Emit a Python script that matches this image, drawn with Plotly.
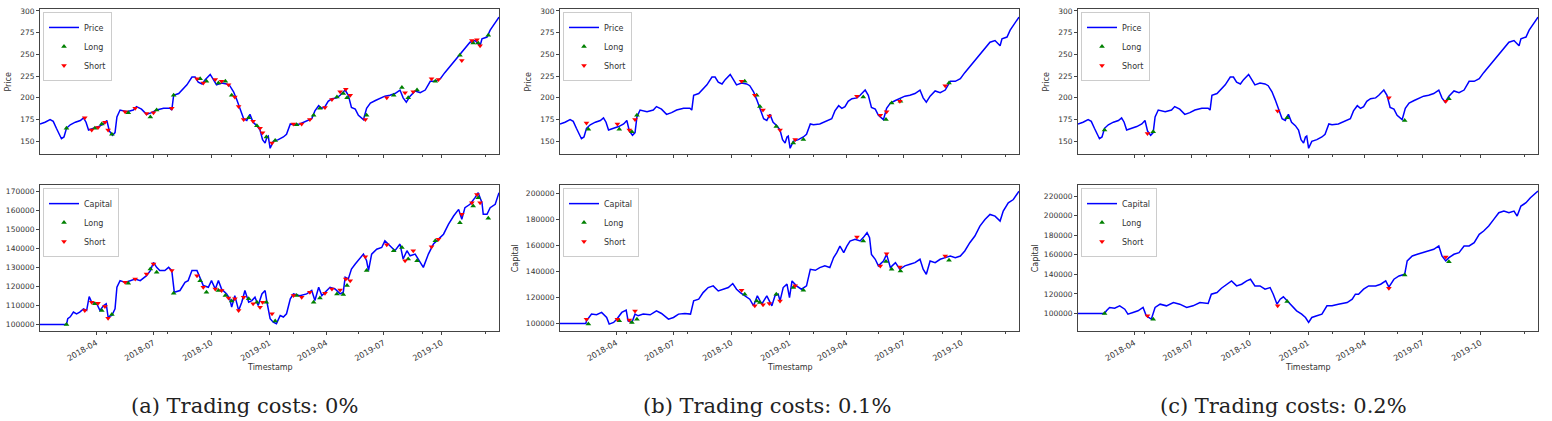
import plotly.graph_objects as go

# ---------------- data ----------------
price_dates = ["2018-01-02","2018-01-10","2018-01-18","2018-01-23","2018-01-28","2018-02-02","2018-02-05","2018-02-09","2018-02-13","2018-02-19",
"2018-02-27","2018-03-07","2018-03-12","2018-03-16","2018-03-20","2018-03-28","2018-04-05","2018-04-13","2018-04-18","2018-04-22",
"2018-04-27","2018-05-01","2018-05-04","2018-05-09","2018-05-20","2018-05-30","2018-06-04","2018-06-12","2018-06-20","2018-06-28",
"2018-07-06","2018-07-17","2018-07-27","2018-07-30","2018-08-02","2018-08-10","2018-08-15","2018-08-23","2018-08-31","2018-09-05",
"2018-09-10","2018-09-16","2018-09-21","2018-09-29","2018-10-04","2018-10-09","2018-10-17","2018-10-25","2018-10-30","2018-11-05",
"2018-11-10","2018-11-15","2018-11-21","2018-11-26","2018-12-01","2018-12-06","2018-12-12","2018-12-17","2018-12-21","2018-12-25",
"2018-12-28","2018-12-30","2019-01-02","2019-01-07","2019-01-15","2019-01-23","2019-01-28","2019-02-03","2019-02-08","2019-02-18",
"2019-03-01","2019-03-09","2019-03-14","2019-03-20","2019-03-25","2019-03-30","2019-04-04","2019-04-10","2019-04-18","2019-04-23",
"2019-05-01","2019-05-06","2019-05-11","2019-05-17","2019-05-22","2019-05-30","2019-06-04","2019-06-10","2019-06-18","2019-06-25",
"2019-07-03","2019-07-11","2019-07-19","2019-07-27","2019-08-01","2019-08-06","2019-08-12","2019-08-20","2019-08-28","2019-09-05",
"2019-09-13","2019-09-21","2019-09-29","2019-10-06","2019-10-14","2019-10-22","2019-10-30","2019-11-07","2019-11-15","2019-11-23",
"2019-12-01","2019-12-04","2019-12-12","2019-12-17","2019-12-25","2019-12-31"]
price_values = [170,172,175,173,165,158,153,155,165,169,
172,174,177,172,163,165,167,170,174,162,
157,160,178,186,184,186,190,187,181,183,
186,188,188,186,203,205,209,215,224,224,
218,216,221,227,221,215,217,216,214,207,
198,188,176,174,181,172,168,163,152,148,
155,156,142,150,152,155,158,170,169,170,
173,176,185,191,188,190,196,199,200,203,
209,203,189,187,180,175,188,194,197,199,
202,203,205,209,200,195,202,208,206,209,
219,219,222,229,236,243,251,258,264,266,
260,268,270,278,287,293]

cap_a_dates = ["2018-01-02","2018-02-13","2018-02-15","2018-02-19","2018-02-24","2018-03-01","2018-03-06","2018-03-12","2018-03-17","2018-03-21",
"2018-03-25","2018-04-02","2018-04-07","2018-04-13","2018-04-17","2018-04-20","2018-04-26","2018-05-01","2018-05-04","2018-05-09",
"2018-05-17","2018-05-25","2018-06-02","2018-06-10","2018-06-20","2018-06-26","2018-07-01","2018-07-06","2018-07-11","2018-07-19",
"2018-07-25","2018-07-30","2018-08-03","2018-08-12","2018-08-20","2018-08-25","2018-08-31","2018-09-08","2018-09-13","2018-09-18",
"2018-09-26","2018-10-01","2018-10-07","2018-10-12","2018-10-17","2018-10-25","2018-10-30","2018-11-02","2018-11-07","2018-11-13",
"2018-11-18","2018-11-23","2018-11-29","2018-12-04","2018-12-09","2018-12-14","2018-12-20","2018-12-25","2018-12-28","2019-01-02",
"2019-01-07","2019-01-12","2019-01-18","2019-01-23","2019-01-28","2019-02-03","2019-02-08","2019-02-18","2019-03-01","2019-03-09",
"2019-03-14","2019-03-20","2019-03-25","2019-03-30","2019-04-07","2019-04-15","2019-04-23","2019-04-28","2019-05-01","2019-05-06",
"2019-05-11","2019-05-17","2019-05-25","2019-05-30","2019-06-04","2019-06-07","2019-06-12","2019-06-20","2019-06-28","2019-07-03",
"2019-07-11","2019-07-19","2019-07-27","2019-08-01","2019-08-07","2019-08-12","2019-08-20","2019-08-25","2019-09-02","2019-09-10",
"2019-09-18","2019-09-26","2019-10-04","2019-10-12","2019-10-20","2019-10-28","2019-11-02","2019-11-07","2019-11-15","2019-11-23",
"2019-11-28","2019-12-04","2019-12-06","2019-12-12","2019-12-17","2019-12-25","2019-12-31"]
cap_a_values = [100000,100000,103000,104000,106500,105600,106500,108200,107400,114700,
111700,110900,107400,110000,110900,103900,104700,108200,119600,123100,
122200,123100,124000,123100,125700,128400,132700,130100,128400,128400,
130100,128400,117000,117900,122200,123100,128400,128400,124900,120500,
119600,123100,118700,123100,118700,116100,113500,109100,115200,107400,
111700,117900,111700,112600,114400,110000,116100,117900,111700,103000,
101200,100400,104700,103900,105600,113500,116100,115200,116100,117900,
112600,119600,115200,117000,119600,118700,116100,117000,124900,124000,
129200,131900,135400,137100,133600,128400,137100,139700,140600,144100,
141500,138900,142400,134500,138900,136200,137100,134500,130100,137100,
142400,145000,147600,152900,157200,160700,155500,161600,163400,166900,
169500,164200,158100,158100,161600,163400,169500]

cap_b_dates = ["2018-01-02","2018-02-12","2018-02-13","2018-02-21","2018-03-01","2018-03-09","2018-03-17","2018-03-21","2018-03-28","2018-04-02",
"2018-04-10","2018-04-17","2018-04-20","2018-04-26","2018-05-01","2018-05-06","2018-05-14","2018-05-25","2018-06-04","2018-06-12",
"2018-06-23","2018-07-01","2018-07-09","2018-07-19","2018-07-28","2018-08-02","2018-08-10","2018-08-17","2018-08-25","2018-09-02",
"2018-09-10","2018-09-18","2018-09-26","2018-10-03","2018-10-09","2018-10-15","2018-10-23","2018-10-30","2018-11-05","2018-11-11",
"2018-11-18","2018-11-26","2018-12-04","2018-12-09","2018-12-14","2018-12-17","2018-12-22","2018-12-28","2019-01-01","2019-01-05",
"2019-01-12","2019-01-20","2019-01-28","2019-02-03","2019-02-11","2019-02-18","2019-02-26","2019-03-06","2019-03-12","2019-03-17",
"2019-03-22","2019-03-28","2019-04-02","2019-04-07","2019-04-15","2019-04-23","2019-04-28","2019-05-04","2019-05-08","2019-05-11",
"2019-05-17","2019-05-22","2019-05-30","2019-06-04","2019-06-10","2019-06-18","2019-06-25","2019-07-03","2019-07-11","2019-07-19",
"2019-07-27","2019-08-01","2019-08-06","2019-08-12","2019-08-20","2019-08-28","2019-09-05","2019-09-13","2019-09-21","2019-09-29",
"2019-10-06","2019-10-14","2019-10-22","2019-10-30","2019-11-07","2019-11-15","2019-11-23","2019-12-01","2019-12-06","2019-12-14",
"2019-12-22","2019-12-31"]
cap_b_values = [100000,100000,102000,107200,106700,108500,104600,99500,100800,103300,
108500,110300,102000,100800,107200,105900,107200,106700,109700,107700,
103300,104600,107200,107700,107200,117400,118700,123800,127700,129000,
125100,126400,127700,130800,126400,123800,121300,118700,113600,121300,
114900,121300,113600,121300,122600,117400,127700,130300,120000,132800,
129000,126400,129000,141800,141000,143100,144400,143100,150800,154600,
159700,154600,159700,163600,164900,163600,166200,170000,166200,153300,
149500,144400,148200,153300,143100,146900,141800,144400,145600,146900,
149500,141800,137900,148200,146900,149500,150800,152000,150800,152000,
155900,162300,167400,175100,180200,184100,182800,179000,186700,193100,
195600,202000]

cap_c_dates = ["2018-01-02","2018-02-13","2018-02-16","2018-02-21","2018-03-01","2018-03-09","2018-03-17","2018-03-22","2018-03-30","2018-04-07",
"2018-04-15","2018-04-20","2018-04-28","2018-05-04","2018-05-12","2018-05-22","2018-06-02","2018-06-12","2018-06-23","2018-07-03",
"2018-07-14","2018-07-27","2018-08-01","2018-08-10","2018-08-17","2018-08-25","2018-09-02","2018-09-10","2018-09-18","2018-09-26",
"2018-10-02","2018-10-09","2018-10-17","2018-10-25","2018-11-02","2018-11-07","2018-11-13","2018-11-18","2018-11-23","2018-11-29",
"2018-12-06","2018-12-14","2018-12-22","2018-12-28","2019-01-02","2019-01-07","2019-01-15","2019-01-23","2019-01-31","2019-02-08",
"2019-02-18","2019-03-04","2019-03-12","2019-03-17","2019-03-22","2019-03-30","2019-04-07","2019-04-18","2019-04-26","2019-05-04",
"2019-05-09","2019-05-17","2019-05-25","2019-06-03","2019-06-07","2019-06-15","2019-06-23","2019-07-03","2019-07-11","2019-07-19",
"2019-07-27","2019-08-01","2019-08-07","2019-08-12","2019-08-20","2019-08-28","2019-09-05","2019-09-13","2019-09-21","2019-09-29",
"2019-10-06","2019-10-14","2019-10-22","2019-10-30","2019-11-07","2019-11-15","2019-11-23","2019-11-28","2019-12-04","2019-12-12",
"2019-12-19","2019-12-27","2019-12-31"]
cap_c_values = [100000,100000,102700,106100,105400,107800,104400,99300,101000,102700,
106100,97600,94200,106100,109500,107800,111200,109500,106100,107800,
111200,110200,119700,121400,125800,129900,133300,128200,129900,133300,
135000,128200,128200,124800,126500,119700,109500,114600,117000,112900,
107800,102700,99300,95900,90800,95900,97600,99300,107800,107800,
109500,111200,114600,119700,119700,124800,128200,128200,129900,133300,
127000,135000,138400,140000,153700,158800,160500,162200,163900,165600,
169000,158800,153700,157100,160500,162200,169000,169000,172400,180900,
184300,189400,196200,203000,204700,203000,204700,199600,209800,213200,
218300,223400,225100]

# trade markers (a: 0 %, b: 0.1 %, c: 0.2 %)
long_a_dates = ["2018-02-13","2018-03-30","2018-04-10","2018-04-26","2018-05-22","2018-06-26","2018-07-06","2018-08-02","2018-09-13","2018-09-23",
"2018-10-12","2018-10-23","2018-11-02","2018-11-29","2018-12-12","2018-12-27","2019-01-10","2019-02-13","2019-03-12","2019-03-22",
"2019-04-18","2019-04-28","2019-05-04","2019-06-04","2019-07-17","2019-07-30","2019-08-09","2019-08-23","2019-09-21","2019-10-30",
"2019-11-20","2019-11-28","2019-12-14"]
long_a_price = [165,165,170,158,183,178,186,203,222,219,217,219,203,177,168,155,151,169,180,188,
201,205,200,180,203,212,200,209,219,249,263,263,272]
long_a_capital = [100000,110900,107400,105300,121700,129200,127500,116500,123100,117000,117900,115200,112300,113500,111700,111700,101800,115200,111700,114000,
116100,115800,120500,128400,138900,140600,134500,133600,144100,153700,162500,166900,156000]
short_a_dates = ["2018-03-14","2018-03-25","2018-04-04","2018-04-15","2018-04-20","2018-05-17","2018-06-02","2018-06-20","2018-07-01","2018-07-30",
"2018-09-08","2018-09-18","2018-10-07","2018-10-17","2018-10-28","2018-11-07","2018-11-13","2018-11-21","2018-12-06","2018-12-17",
"2018-12-21","2019-01-05","2019-02-08","2019-02-21","2019-03-06","2019-03-30","2019-04-10","2019-04-23","2019-05-02","2019-05-09",
"2019-06-02","2019-07-06","2019-08-04","2019-08-17","2019-09-15","2019-09-26","2019-11-02","2019-11-18","2019-11-26","2019-12-01"]
short_a_price = [177,163,166,172,163,184,188,182,183,188,222,217,221,219,215,201,190,175,173,165,
160,148,170,170,175,189,198,207,210,203,175,200,206,207,222,221,243,266,267,260]
short_a_capital = [107400,111700,111200,109500,103300,122200,124000,126600,131900,128400,125700,119600,118700,117900,114000,113500,107400,114400,110900,109100,
111700,105600,115200,114400,117000,116500,118700,118200,124000,123100,135700,142000,133600,138900,141000,145000,158100,164200,168600,164200]

long_b_dates = ["2018-02-16","2018-04-06","2018-04-26","2018-05-04","2018-10-22","2018-11-10","2018-11-15","2018-12-11","2019-01-07","2019-01-23",
"2019-04-28","2019-06-03","2019-06-12","2019-06-26","2019-09-11"]
long_b_price = [164,164,161,180,219,203,190,167,148,152,201,175,194,196,217]
long_b_capital = [99500,102000,100800,103300,122600,117400,116200,122600,127700,125600,163600,147700,141800,140500,148700]
short_b_dates = ["2018-02-13","2018-04-03","2018-04-22","2018-05-01","2018-10-17","2018-11-07","2018-11-20","2018-11-30","2018-12-17","2019-01-10",
"2019-04-18","2019-05-25","2019-06-04","2019-06-25","2019-09-05"]
short_b_price = [171,170,163,175,219,203,186,179,163,152,202,180,184,196,214]
short_b_capital = [103300,103300,102600,109700,125600,113600,114400,115400,117400,129000,166700,144400,153800,143600,152000]

long_c_dates = ["2018-02-13","2018-05-01","2018-11-29","2019-06-03","2019-08-12"]
long_c_price = [163,161,177,174,199]
long_c_capital = [100000,94200,112200,139400,153000]
short_c_dates = ["2018-04-22","2018-11-14","2019-05-09","2019-08-07"]
short_c_price = [159,185,200,196]
short_c_capital = [97600,107800,125800,157800]

captions = ["(a) Trading costs: 0%", "(b) Trading costs: 0.1%", "(c) Trading costs: 0.2%"]
minor_x_ticks = ["2018-04-17","2018-07-24","2018-11-02","2019-02-08","2019-05-22","2019-08-31","2019-12-09"]
x_range = ["2018-01-02", "2019-12-31"]

# ---------------- layout geometry ----------------
W, H = 1552, 421
plot_x_px = [(40, 499), (560, 1019), (1078, 1538)]
price_y_px = (7, 153)
cap_y_px = (184, 331)
price_range = [135.1, 302.3]
cap_ranges = [[96300, 173500], [93850, 206700], [81640, 231200]]
cap_dticks = [10000, 20000, 20000]
caption_x_px = [244, 767, 1283]
ylabel_price_px = [9, 529, 1047]
ylabel_cap_px = [None, 515, 1035]

def px_x(v):
    return v / W

def px_y(v):
    return 1 - v / H

panels = [
    dict(cap_d=cap_a_dates, cap_v=cap_a_values,
         ld=long_a_dates, lp=long_a_price, lc=long_a_capital,
         sd=short_a_dates, sp=short_a_price, sc=short_a_capital),
    dict(cap_d=cap_b_dates, cap_v=cap_b_values,
         ld=long_b_dates, lp=long_b_price, lc=long_b_capital,
         sd=short_b_dates, sp=short_b_price, sc=short_b_capital),
    dict(cap_d=cap_c_dates, cap_v=cap_c_values,
         ld=long_c_dates, lp=long_c_price, lc=long_c_capital,
         sd=short_c_dates, sp=short_c_price, sc=short_c_capital),
]

BLUE, GREEN, RED = "#0000ff", "#008000", "#ff0000"
TXT = "#333333"
FONT = "DejaVu Sans"

fig = go.Figure()
layout = dict(
    width=W, height=H, margin=dict(l=0, r=0, t=0, b=0),
    paper_bgcolor="white", plot_bgcolor="white",
    font=dict(family=FONT, size=8, color=TXT),
    annotations=[],
)

axis_common = dict(
    showline=True, linecolor="#444", linewidth=1, mirror=True,
    ticks="outside", ticklen=3, tickwidth=1, tickcolor="#444",
    showgrid=False, zeroline=False,
    tickfont=dict(family=FONT, size=7.5, color=TXT),
)

for i, p in enumerate(panels):
    ip, ic = 2 * i + 1, 2 * i + 2
    xp = "x" if ip == 1 else f"x{ip}"
    yp = "y" if ip == 1 else f"y{ip}"
    xc, yc = f"x{ic}", f"y{ic}"
    lgp = "legend" if ip == 1 else f"legend{ip}"
    lgc = f"legend{ic}"

    # price row
    fig.add_trace(go.Scatter(x=price_dates, y=price_values, mode="lines", name="Price",
                             line=dict(color=BLUE, width=1.5), xaxis=xp, yaxis=yp, legend=lgp))
    fig.add_trace(go.Scatter(x=p["ld"], y=p["lp"], mode="markers", name="Long",
                             marker=dict(symbol="triangle-up", color=GREEN, size=5, line=dict(width=0)),
                             xaxis=xp, yaxis=yp, legend=lgp))
    fig.add_trace(go.Scatter(x=p["sd"], y=p["sp"], mode="markers", name="Short",
                             marker=dict(symbol="triangle-down", color=RED, size=5, line=dict(width=0)),
                             xaxis=xp, yaxis=yp, legend=lgp))
    # capital row
    fig.add_trace(go.Scatter(x=p["cap_d"], y=p["cap_v"], mode="lines", name="Capital",
                             line=dict(color=BLUE, width=1.5), xaxis=xc, yaxis=yc, legend=lgc))
    fig.add_trace(go.Scatter(x=p["ld"], y=p["lc"], mode="markers", name="Long",
                             marker=dict(symbol="triangle-up", color=GREEN, size=5, line=dict(width=0)),
                             xaxis=xc, yaxis=yc, legend=lgc))
    fig.add_trace(go.Scatter(x=p["sd"], y=p["sc"], mode="markers", name="Short",
                             marker=dict(symbol="triangle-down", color=RED, size=5, line=dict(width=0)),
                             xaxis=xc, yaxis=yc, legend=lgc))

    x0, x1 = plot_x_px[i]
    xdom = [px_x(x0), px_x(x1)]
    xcommon = dict(axis_common, type="date", range=x_range, dtick="M3", tick0="2018-01-01",
                   tickformat="%Y-%m", domain=xdom,
                   minor=dict(tickmode="array", tickvals=minor_x_ticks, ticks="outside",
                              ticklen=2, tickwidth=1, tickcolor="#444"))
    layout["xaxis" if ip == 1 else f"xaxis{ip}"] = dict(xcommon, anchor=yp, showticklabels=False)
    layout[f"xaxis{ic}"] = dict(xcommon, anchor=yc, showticklabels=True, tickangle=-30,
                                tickfont=dict(family=FONT, size=8, color=TXT))
    layout["yaxis" if ip == 1 else f"yaxis{ip}"] = dict(
        axis_common, anchor=xp, range=price_range, dtick=25, tick0=150,
        domain=[px_y(price_y_px[1]), px_y(price_y_px[0])])
    layout[f"yaxis{ic}"] = dict(
        axis_common, anchor=xc, range=cap_ranges[i], dtick=cap_dticks[i], tick0=100000,
        tickformat="d", domain=[px_y(cap_y_px[1]), px_y(cap_y_px[0])])

    leg = dict(x=px_x(x0 + 3), xanchor="left", bgcolor="rgba(255,255,255,0.85)",
               bordercolor="#cccccc", borderwidth=1,
               font=dict(family=FONT, size=8, color=TXT), yanchor="top",
               tracegroupgap=0, itemwidth=30)
    layout[lgp] = dict(leg, y=px_y(price_y_px[0] + 3))
    layout[lgc] = dict(leg, y=px_y(cap_y_px[0] + 3))

    # axis labels and caption
    ann = layout["annotations"]
    lab_font = dict(family=FONT, size=8, color=TXT)
    ann.append(dict(text="Price", x=px_x(ylabel_price_px[i]), y=px_y((price_y_px[0] + price_y_px[1]) / 2),
                    xref="paper", yref="paper", textangle=-90, showarrow=False,
                    xanchor="center", yanchor="middle", font=lab_font))
    if ylabel_cap_px[i] is not None:
        ann.append(dict(text="Capital", x=px_x(ylabel_cap_px[i]), y=px_y((cap_y_px[0] + cap_y_px[1]) / 2),
                        xref="paper", yref="paper", textangle=-90, showarrow=False,
                        xanchor="center", yanchor="middle", font=lab_font))
    ann.append(dict(text="Timestamp", x=px_x((x0 + x1) / 2), y=px_y(367), xref="paper", yref="paper",
                    showarrow=False, xanchor="center", yanchor="middle", font=lab_font))
    ann.append(dict(text=captions[i], x=px_x(caption_x_px[i]), y=px_y(406), xref="paper", yref="paper",
                    showarrow=False, xanchor="center", yanchor="middle",
                    font=dict(family="DejaVu Serif", size=21, color="#222")))

fig.update_layout(**layout)
fig.write_html("out.html")
